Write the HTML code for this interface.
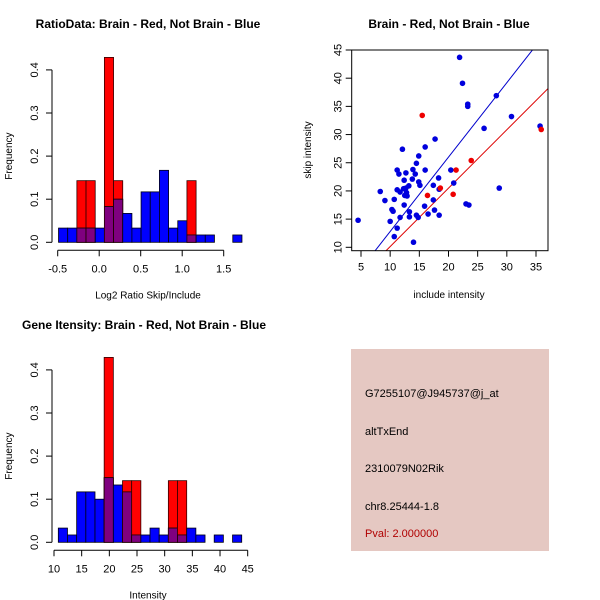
<!DOCTYPE html>
<html><head><meta charset="utf-8"><style>
body{margin:0;background:#fff;}
svg{display:block;font-family:"Liberation Sans",Arial,sans-serif;}
</style></head><body>
<svg id="s" width="600" height="600" xmlns="http://www.w3.org/2000/svg">
<rect width="600" height="600" fill="#fff"/>
<g id="h1"></g>
<g id="sc"></g>
<g id="h2"></g>
<g>
<rect x="351" y="349" width="198" height="202" fill="#e5c8c2"/>
<text x="365" y="397" font-size="11" fill="#000">G7255107@J945737@j_at</text>
<text x="365" y="435" font-size="11" fill="#000">altTxEnd</text>
<text x="365" y="472" font-size="11" fill="#000">2310079N02Rik</text>
<text x="365" y="510" font-size="11" fill="#000">chr8.25444-1.8</text>
<text x="365" y="537" font-size="11" fill="#b00000">Pval: 2.000000</text>
</g>
</svg>
<script>
// Ratio histogram data
const ratioBinStart = -0.49, ratioBinWidth = 0.1105;
const ratioBlue = [0.033,0.033,0.033,0.033,0.033,0.083,0.1,0.067,0.033,0.117,0.117,0.167,0.033,0.05,0.017,0.017,0.017,0,0,0.017];
const ratioRed  = [0,0,0.143,0.143,0,0.429,0.143,0,0,0,0,0,0,0,0.143,0,0,0,0,0];
const ratioXTicks = [-0.5,0,0.5,1.0,1.5];
const ratioXTickLabels = ["-0.5","0.0","0.5","1.0","1.5"];
const freqTicks = [0,0.1,0.2,0.3,0.4];
const freqTickLabels = ["0.0","0.1","0.2","0.3","0.4"];
// Intensity histogram data
const intBinStart = 10.78, intBinWidth = 1.657;
const intBlue = [0.033,0.017,0.117,0.117,0.1,0.15,0.133,0.117,0.017,0.017,0.033,0.017,0.033,0.017,0.033,0.017,0,0.017,0,0.017];
const intRed  = [0,0,0,0,0,0.429,0,0.143,0.143,0,0,0,0.143,0.143,0,0,0,0,0,0];
const intXTicks = [10,15,20,25,30,35,40,45];
// Scatter data
const blueX = [4.5,8.3,9.1,10.0,10.3,10.5,10.7,10.7,11.2,11.2,11.2,11.5,11.7,11.7,12.1,12.3,12.4,12.4,12.5,12.7,12.7,12.8,12.9,13.2,13.3,13.3,13.8,13.9,14.0,14.3,14.5,14.5,14.8,14.9,14.9,15.1,15.9,16.0,16.0,16.5,17.4,17.4,17.6,17.7,18.3,18.4,18.4,20.4,20.9,21.9,22.4,23.0,23.3,23.3,23.5,26.1,28.2,28.7,30.8,35.7];
const blueY = [14.8,19.9,18.3,14.6,16.7,16.4,18.5,11.9,20.2,23.7,13.4,23.0,15.3,19.8,27.4,20.4,17.5,21.9,19.2,23.2,20.5,19.7,19.1,20.9,16.3,15.4,22.1,23.8,10.9,23.0,24.9,15.7,15.3,26.2,21.6,21.0,17.3,27.8,23.7,15.9,21.0,18.4,16.6,29.2,22.3,20.3,15.7,23.7,21.4,43.7,39.1,17.7,35.4,35.0,17.5,31.1,36.9,20.5,33.2,31.5];
const redX = [15.5,16.4,18.6,20.8,21.3,23.9,35.9];
const redY = [33.4,19.2,20.5,19.4,23.7,25.4,30.9];
const blueLine = [1.32,-0.4]; // slope, intercept
const redLine = [1.036,-0.23];
const scXTicks = [5,10,15,20,25,30,35];
const scYTicks = [10,15,20,25,30,35,40,45];

const NS="http://www.w3.org/2000/svg";
function mk(parent,tag,attrs,txt){const e=document.createElementNS(NS,tag);for(const k in attrs)e.setAttribute(k,attrs[k]);if(txt!==undefined)e.textContent=txt;parent.appendChild(e);return e;}

function hist(gid,binStart,binW,blue,red,xTicks,xLabels,xmin,xpx,xscale,y0,title,titleX,titleY,xlab){
  const g=document.getElementById(gid);
  const X=v=>xpx+(v-xmin)*xscale;
  const Y=v=>y0-v*431;
  for(let i=0;i<blue.length;i++){
    const a=X(binStart+i*binW), b=X(binStart+(i+1)*binW);
    const top=Math.max(blue[i],red[i]), lo=Math.min(blue[i],red[i]);
    if(top<=0) continue;
    if(red[i]>0){
      const r=mk(g,'rect',{x:a,y:Y(red[i]),width:b-a,height:red[i]*431,fill:'#ff0000',stroke:'#300',"stroke-width":0.8});
      
      
    }
    if(blue[i]>0){
      const r=mk(g,'rect',{x:a,y:Y(blue[i]),width:b-a,height:blue[i]*431,fill:'#0000ff',stroke:'#001',"stroke-width":0.8});
      
      
    }
    if(lo>0){
      const r=mk(g,'rect',{x:a,y:Y(lo),width:b-a,height:lo*431,fill:'#7f007f',stroke:'#200',"stroke-width":0.8});
      
      
    }
  }
  mk(g,'line',{x1:52,x2:52,y1:Y(0),y2:Y(0.4),stroke:'#000'});
  freqTicks.forEach((t,i)=>{
    mk(g,'line',{x1:46,x2:52,y1:Y(t),y2:Y(t),stroke:'#000'});
    const tx=mk(g,'text',{x:0,y:0,transform:`translate(38,${Y(t)}) rotate(-90)`,"text-anchor":"middle","font-size":11},freqTickLabels[i]);
    
    
  });
  const yl=mk(g,'text',{transform:`translate(12,${Y(0.2)}) rotate(-90)`,"text-anchor":"middle","font-size":10},'Frequency');
  
  
  const ay=y0+8;
  mk(g,'line',{x1:X(xTicks[0]),x2:X(xTicks[xTicks.length-1]),y1:ay,y2:ay,stroke:'#000'});
  xTicks.forEach((t,i)=>{
    mk(g,'line',{x1:X(t),x2:X(t),y1:ay,y2:ay+6,stroke:'#000'});
    const tx=mk(g,'text',{x:X(t),y:ay+22,"text-anchor":"middle","font-size":11},xLabels[i]);
    
    
  });
  const xl=mk(g,'text',{x:148,y:ay+48,"text-anchor":"middle","font-size":10},xlab);
  
  
  const tt=mk(g,'text',{x:titleX,y:titleY,"text-anchor":"middle","font-size":12,"font-weight":"bold"},title);
  
  
}
hist('h1',ratioBinStart,ratioBinWidth,ratioBlue,ratioRed,ratioXTicks,ratioXTickLabels,-0.5,57.7,83,242.3,'RatioData: Brain - Red, Not Brain - Blue',148,28,'Log2 Ratio Skip/Include');
hist('h2',intBinStart,intBinWidth,intBlue,intRed,intXTicks,intXTicks.map(String),10,54,5.534,542.3,'Gene Itensity: Brain - Red, Not Brain - Blue',144,329,'Intensity');

(function(){
  const g=document.getElementById('sc');
  const L=351.7,R=548,T=50,B=250.7;
  const X=v=>361+(v-5)*5.833;
  const Y=v=>247.3-(v-10)*5.637;
  const clip=mk(g,'clipPath',{id:'scclip'});
  mk(clip,'rect',{x:L,y:T,width:R-L,height:B-T});
  const lg=mk(g,'g',{"clip-path":"url(#scclip)"});
  const bl=mk(lg,'line',{x1:X(0),y1:Y(blueLine[1]),x2:X(40),y2:Y(blueLine[0]*40+blueLine[1]),stroke:'#0000cc',"stroke-width":1});
  
  
  const rl=mk(lg,'line',{x1:X(0),y1:Y(redLine[1]),x2:X(40),y2:Y(redLine[0]*40+redLine[1]),stroke:'#dd0000',"stroke-width":1});
  
  
  blueX.forEach((x,i)=>{
    const c=mk(g,'circle',{cx:X(x),cy:Y(blueY[i]),r:2.8,fill:'#0000dd'});
    
    
  });
  redX.forEach((x,i)=>{
    const c=mk(g,'circle',{cx:X(x),cy:Y(redY[i]),r:2.8,fill:'#ee0000'});
    
    
  });
  mk(g,'rect',{x:L,y:T,width:R-L,height:B-T,fill:'none',stroke:'#000'});
  scXTicks.forEach(t=>{
    mk(g,'line',{x1:X(t),x2:X(t),y1:B,y2:B+6,stroke:'#000'});
    const tx=mk(g,'text',{x:X(t),y:B+20,"text-anchor":"middle","font-size":11},String(t));
    
    
  });
  scYTicks.forEach(t=>{
    mk(g,'line',{x1:L-6,x2:L,y1:Y(t),y2:Y(t),stroke:'#000'});
    const tx=mk(g,'text',{transform:`translate(${L-10},${Y(t)}) rotate(-90)`,"text-anchor":"middle","font-size":11},String(t));
    
    
  });
  const xl=mk(g,'text',{x:449,y:298,"text-anchor":"middle","font-size":10},'include intensity');
  
  
  const yl=mk(g,'text',{transform:`translate(311,150) rotate(-90)`,"text-anchor":"middle","font-size":10},'skip intensity');
  
  
  const tt=mk(g,'text',{x:449,y:28,"text-anchor":"middle","font-size":12,"font-weight":"bold"},'Brain - Red, Not Brain - Blue');
  
  
})();
</script>
</body></html>
